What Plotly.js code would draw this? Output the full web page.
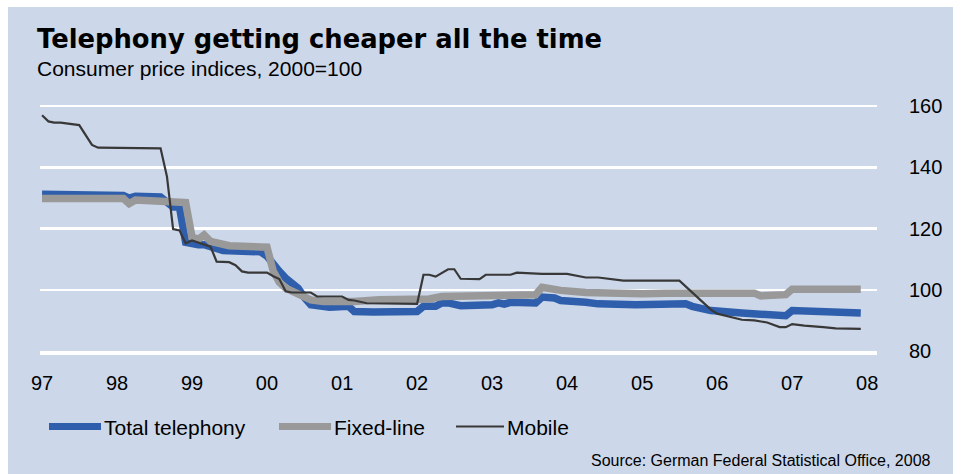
<!DOCTYPE html>
<html>
<head>
<meta charset="utf-8">
<script src="https://cdn.plot.ly/plotly-3.0.1.min.js"></script>
<style>
  html, body { margin: 0; padding: 0; background: #ffffff; width: 961px; height: 474px; overflow: hidden; }
  #chart { position: absolute; left: 8px; top: 7px; width: 945px; height: 467px; }
</style>
</head>
<body>
<div id="chart"></div>
<script>
// ---- Data ----
const tickYears = ['1997-01-01','1998-01-01','1999-01-01','2000-01-01','2001-01-01','2002-01-01','2003-01-01','2004-01-01','2005-01-01','2006-01-01','2007-01-01','2008-01-01'];
const tickLabels = ['97','98','99','00','01','02','03','04','05','06','07','08'];
const yTicks = [80, 100, 120, 140, 160];

const seriesNames = ['Total telephony', 'Fixed-line', 'Mobile'];

const totalDates = ['1997-01','1998-02','1998-03','1998-04','1998-08','1998-10','1998-11','1998-12','1999-02','1999-03','1999-06','1999-12','2000-01','2000-02','2000-03','2000-04','2000-05','2000-06','2000-07','2000-08','2000-11','2001-02','2001-03','2001-06','2002-01','2002-02','2002-04','2002-05','2002-06','2002-08','2003-01','2003-02','2003-03','2003-04','2003-08','2003-09','2003-11','2003-12','2004-04','2004-06','2004-12','2005-05','2005-08','2005-09','2005-12','2006-05','2006-08','2006-12','2007-01','2007-07','2007-12'];
const totalValues = [131.2,130.8,129.9,130.5,130.3,127.0,127.0,115.5,114.7,114.7,112.8,112.4,111.0,108.0,106.0,103.8,102.5,100.5,97.5,95.1,94.3,94.6,92.9,92.7,92.9,94.6,94.6,95.7,95.7,94.8,95.1,95.7,95.3,95.9,95.7,97.6,97.3,96.5,95.9,95.4,95.1,95.5,95.4,94.6,93.2,92.4,91.8,91.5,93.2,92.9,92.4];

const fixedDates = ['1997-01','1998-02','1998-03','1998-04','1998-08','1998-12','1999-01','1999-02','1999-03','1999-04','1999-07','1999-10','2000-01','2000-02','2000-03','2000-04','2000-05','2000-06','2000-08','2000-10','2001-01','2001-03','2001-07','2002-01','2002-03','2002-05','2002-07','2003-02','2003-08','2003-09','2003-11','2003-12','2004-04','2004-12','2005-01','2005-05','2006-07','2006-08','2006-12','2007-01','2007-04','2007-05','2007-12'];
const fixedValues = [129.8,129.8,128.1,129.3,128.9,128.5,117.2,116.5,117.9,115.8,114.4,113.9,113.9,106.0,102.5,100.5,99.5,98.9,96.7,96.2,95.9,96.2,96.7,96.7,97.0,97.8,97.8,98.4,98.4,100.8,100.5,99.8,99.1,98.4,98.7,98.9,98.9,98.0,98.4,100.2,100.2,100.5,100.2];

const mobileDates = ['1997-01','1997-02','1997-03','1997-04','1997-07','1997-09','1997-10','1998-03','1998-05','1998-08','1998-09','1998-10','1998-11','1998-12','1999-01','1999-04','1999-05','1999-07','1999-08','1999-09','1999-10','2000-01','2000-02','2000-03','2000-04','2000-05','2000-08','2000-09','2001-01','2001-02','2001-03','2001-05','2002-01','2002-02','2002-03','2002-04','2002-06','2002-07','2002-08','2002-11','2002-12','2003-04','2003-05','2003-08','2003-09','2004-01','2004-04','2004-06','2004-10','2005-07','2005-08','2005-10','2005-12','2006-01','2006-03','2006-05','2006-07','2006-09','2006-11','2006-12','2007-01','2007-03','2007-06','2007-08','2007-12'];
const mobileValues = [157.0,155.0,154.6,154.6,153.8,147.3,146.4,146.4,146.2,146.2,137.0,119.8,119.4,115.2,116.1,114.1,109.2,109.0,108.0,106.0,105.6,105.6,104.4,103.5,99.5,99.1,99.1,97.8,97.8,96.7,96.5,95.6,95.4,104.9,104.9,104.3,106.7,106.7,103.6,103.5,104.9,104.9,105.6,105.4,105.2,105.2,104.0,104.0,103.0,103.0,101.1,97.3,93.5,92.2,91.3,90.2,90.0,89.3,87.8,87.8,88.8,88.3,87.8,87.4,87.2];

const titleText = 'Telephony getting cheaper all the time';
const subtitleText = 'Consumer price indices, 2000=100';
const sourceText = 'Source: German Federal Statistical Office, 2008';

// ---- Styling / geometry ----
const BG = '#ccd7e9';
const BLUE = '#2f5fac';
const GRAY = '#999999';
const DARK = '#383838';
const FONT = '"Liberation Sans", Arial, Helvetica, sans-serif';

const W = 945, H = 467, OX = 8, OY = 7;
const ML = 32, MR = 76, MT = 96, MB = 123;
const PW = W - ML - MR, PH = H - MT - MB;
const px = x => (x - OX - ML) / PW;          // page x -> paper x
const py = y => (OY + MT + PH - y) / PH;     // page y -> paper y

const traces = [
  { x: totalDates, y: totalValues, name: seriesNames[0], type: 'scatter', mode: 'lines',
    line: { color: BLUE, width: 7.5 } },
  { x: fixedDates, y: fixedValues, name: seriesNames[1], type: 'scatter', mode: 'lines',
    line: { color: GRAY, width: 7.5 } },
  { x: mobileDates, y: mobileValues, name: seriesNames[2], type: 'scatter', mode: 'lines',
    line: { color: DARK, width: 2.2 } }
];

// custom legend (swatch + label), positioned like the reference
const legendItems = [
  { x0: 49, x1: 101, tx: 102, color: BLUE, width: 7, label: seriesNames[0] },
  { x0: 279, x1: 331, tx: 332, color: GRAY, width: 7, label: seriesNames[1] },
  { x0: 456, x1: 504, tx: 505, color: DARK, width: 2.2, label: seriesNames[2] }
];
const legendY = 426.5;

const shapes = legendItems.map(it => ({
  type: 'line', xref: 'paper', yref: 'paper',
  x0: px(it.x0), x1: px(it.x1), y0: py(legendY), y1: py(legendY),
  line: { color: it.color, width: it.width }
}));

const annotations = [
  { text: subtitleText, xref: 'paper', yref: 'paper', x: px(35), y: py(68.5),
    xanchor: 'left', yanchor: 'middle', showarrow: false,
    font: { family: FONT, size: 21, color: '#000000' } },
  { text: sourceText, xref: 'paper', yref: 'paper', x: px(933), y: py(460),
    xanchor: 'right', yanchor: 'middle', showarrow: false,
    font: { family: FONT, size: 16, color: '#000000' } }
].concat(legendItems.map(it => ({
  text: it.label, xref: 'paper', yref: 'paper', x: px(it.tx), y: py(legendY + 1),
  xanchor: 'left', yanchor: 'middle', showarrow: false,
  font: { family: FONT, size: 21, color: '#000000' }
})));

const layout = {
  width: W, height: H,
  margin: { l: ML, r: MR, t: MT, b: MB, pad: 0 },
  paper_bgcolor: BG, plot_bgcolor: BG,
  showlegend: false,
  title: {
    text: '<b>' + titleText + '</b>',
    xref: 'container', yref: 'container',
    x: 29 / W, xanchor: 'left',
    y: 1 - 32 / H, yanchor: 'middle',
    font: { family: '"DejaVu Sans", Arial, sans-serif', size: 25.8, color: '#000000' }
  },
  xaxis: {
    type: 'date',
    range: ['1996-12-22', '2008-02-18'],
    tickmode: 'array', tickvals: tickYears, ticktext: tickLabels,
    showgrid: false, zeroline: false,
    showline: true, linecolor: '#ffffff', linewidth: 4,
    ticks: 'outside', ticklen: 11, tickcolor: 'rgba(0,0,0,0)',
    tickfont: { family: FONT, size: 20, color: '#000000' },
    fixedrange: true
  },
  yaxis: {
    side: 'right',
    range: [80, 161],
    tickmode: 'array', tickvals: yTicks,
    showgrid: true, gridcolor: '#ffffff', gridwidth: 2.5,
    zeroline: false, showline: false,
    ticks: 'outside', ticklen: 27, tickcolor: 'rgba(0,0,0,0)',
    tickfont: { family: FONT, size: 20, color: '#000000' },
    fixedrange: true
  },
  shapes: shapes,
  annotations: annotations
};

Plotly.newPlot('chart', traces, layout, { displayModeBar: false, staticPlot: true, responsive: false });
</script>
</body>
</html>
